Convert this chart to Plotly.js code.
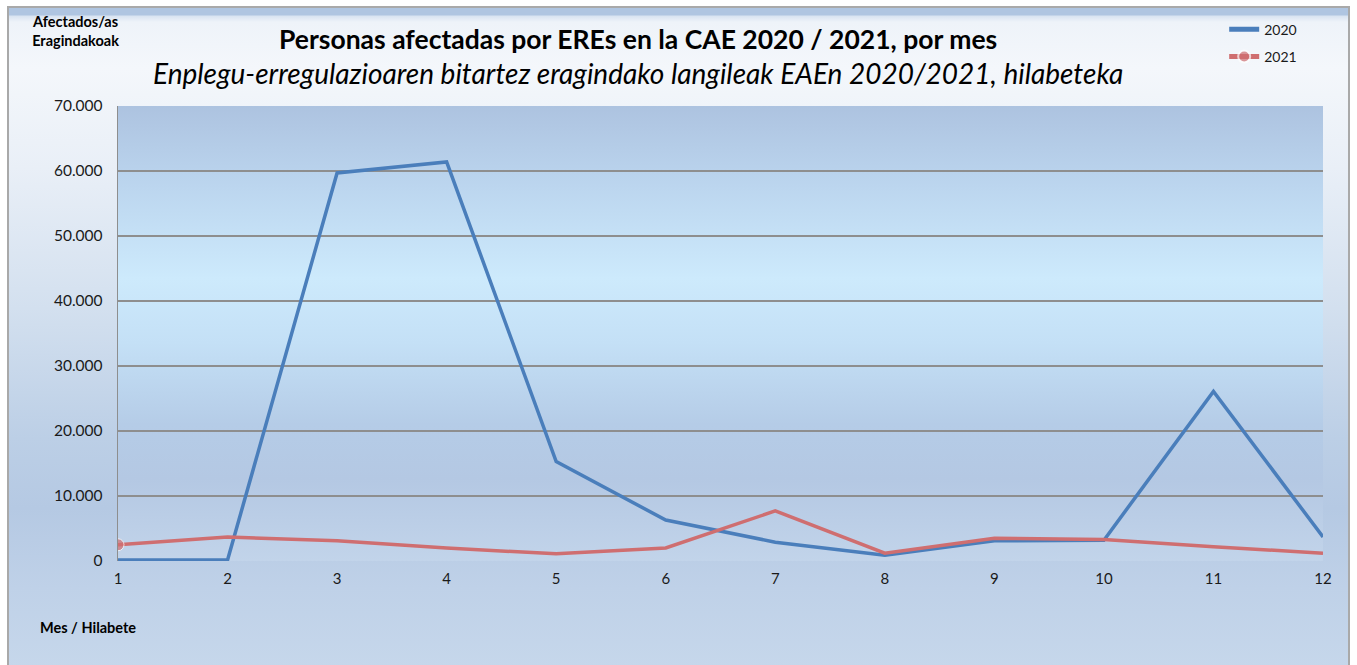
<!DOCTYPE html>
<html>
<head>
<meta charset="utf-8">
<script src="https://cdn.plot.ly/plotly-3.0.1.min.js"></script>
<style>
  html, body { margin: 0; padding: 0; width: 1357px; height: 665px; overflow: hidden; background: #ffffff; }
  #wrap { position: relative; width: 1357px; height: 665px; }
  #outer {
    position: absolute; left: 7px; top: 6px; width: 1343px; height: 665px;
    border: 2px solid #a9a9a9; box-sizing: border-box;
    background: linear-gradient(to bottom,
      #afc5e1 0px, #afc5e1 7px, #d8e3f1 8px, #eef3f9 14px, #f4f7fb 60px,
      #e9eff7 160px, #d3e0ef 300px, #bccfe6 430px, #b5c9e3 500px, #bfd1e8 580px, #c6d7eb 660px);
  }
  #plotbg {
    position: absolute; left: 118px; top: 106px; width: 1205px; height: 455px;
    background: linear-gradient(to bottom,
      #adc3e0 0%, #bcd6ef 18%, #cdeafc 38%, #c4e0f6 52%, #b5cce7 70%, #b4c8e3 82%, #c2d4ea 100%);
  }
  #chart { position: absolute; left: 0; top: 0; width: 1357px; height: 665px; }
</style>
</head>
<body>
<div id="wrap">
  <div id="outer"></div>
  <div id="plotbg"></div>
  <div id="chart"></div>
</div>
<script>
const months = [1, 2, 3, 4, 5, 6, 7, 8, 9, 10, 11, 12];
const afectados2020 = [150, 150, 59700, 61400, 15300, 6300, 2900, 900, 3100, 3200, 26100, 3700];
const afectados2021 = [2500, 3700, 3100, 2000, 1100, 2000, 7700, 1200, 3500, 3300, 2200, 1200];
const seriesNames = ['2020', '2021'];
const yTicks = [0, 10000, 20000, 30000, 40000, 50000, 60000, 70000];

const FONT = 'Lato, "Open Sans", "Liberation Sans", sans-serif';

const traces = [
  {
    x: months, y: afectados2020, name: seriesNames[0], type: 'scatter', mode: 'lines',
    line: { color: '#4a7ebb', width: 3.5 }, legendgroup: 'a'
  },
  {
    x: months, y: afectados2021, name: seriesNames[1], type: 'scatter', mode: 'lines+markers',
    line: { color: '#cf6e70', width: 3.5 },
    marker: { color: '#cf6e70', size: months.map((m, i) => i === 0 ? 12 : 0), symbol: 'circle' },
    legendgroup: 'b'
  }
];

const layout = {
  width: 1357, height: 665,
  margin: { l: 118, r: 34, t: 106, b: 104 },
  paper_bgcolor: 'rgba(0,0,0,0)',
  plot_bgcolor: 'rgba(0,0,0,0)',
  separators: ',.',
  font: { family: FONT, color: '#1a1a1a', size: 15 },
  showlegend: true,
  legend: {
    x: 0.918, xanchor: 'left', y: 1.203, yanchor: 'top',
    bgcolor: 'rgba(0,0,0,0)', font: { size: 14, family: FONT, color: '#1a1a1a' },
    traceorder: 'grouped', tracegroupgap: 6, itemsizing: 'constant'
  },
  xaxis: {
    range: [1, 12], tickvals: months, ticktext: months.map(String),
    showgrid: false, zeroline: false, showline: false, ticks: '',
    ticklabelstandoff: 7, tickfont: { size: 15 }, fixedrange: true
  },
  yaxis: {
    range: [0, 70000], tickvals: yTicks, tickformat: ',d',
    showgrid: true, gridcolor: '#8e8e8e', gridwidth: 1.3,
    zeroline: false, showline: true, linecolor: '#8e8e8e', linewidth: 1.3,
    ticks: '', ticklabelstandoff: 11, tickfont: { size: 15.5 }, fixedrange: true
  },
  annotations: [
    {
      text: '<b>Personas afectadas por EREs en la CAE 2020 / 2021, por mes</b>',
      xref: 'paper', yref: 'paper', x: 0.4315, y: 1.147, xanchor: 'center', yanchor: 'middle',
      showarrow: false, font: { size: 26.5, family: FONT, color: '#000000' }
    },
    {
      text: '<i>Enplegu-erregulazioaren bitartez eragindako langileak EAEn 2020/2021, hilabeteka</i>',
      xref: 'paper', yref: 'paper', x: 0.4315, y: 1.0725, xanchor: 'center', yanchor: 'middle',
      showarrow: false, font: { size: 28, family: FONT, color: '#000000' }
    },
    {
      text: '<b>Afectados/as<br>Eragindakoak</b>',
      xref: 'paper', yref: 'paper', x: -0.0349, y: 1.165, xanchor: 'center', yanchor: 'middle',
      showarrow: false, font: { size: 14.5, family: FONT, color: '#000000' }, align: 'center'
    },
    {
      text: '<b>Mes / Hilabete</b>',
      xref: 'paper', yref: 'paper', x: -0.0664, y: -0.147, xanchor: 'left', yanchor: 'middle',
      showarrow: false, font: { size: 14.5, family: FONT, color: '#000000' }
    }
  ]
};

Plotly.newPlot('chart', traces, layout, { displayModeBar: false, staticPlot: true });
</script>
</body>
</html>
